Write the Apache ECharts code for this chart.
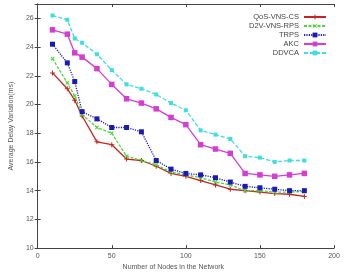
<!DOCTYPE html>
<html>
<head>
<meta charset="utf-8">
<script src="https://cdn.jsdelivr.net/npm/echarts@6/dist/echarts.min.js"></script>
<style>
	html, body { margin: 0; padding: 0; background: #fff; }
	#chart { width: 344px; height: 276px; }
</style>
</head>
<body>
<div id="chart"></div>
<script>
	// number of nodes
	var nodes = [10, 20, 25, 30, 40, 50, 60, 70, 80, 90, 100, 110, 120, 130, 140, 150, 160, 170, 180];

	var qosVnsCs = [22.2, 21.1, 20.3, 19.2, 17.4, 17.2, 16.2, 16.1, 15.7, 15.2, 15.0, 14.7, 14.4, 14.1, 14.0, 13.9, 13.8, 13.75, 13.6];
	var d2vVnsRps = [23.2, 21.5, 20.6, 19.3, 18.4, 18.0, 16.4, 16.1, 15.8, 15.3, 15.1, 14.9, 14.6, 14.4, 14.0, 14.0, 13.9, 13.9, 13.95];
	var trps = [24.2, 22.9, 21.6, 19.5, 19.0, 18.4, 18.4, 18.1, 16.1, 15.5, 15.2, 15.1, 14.9, 14.6, 14.3, 14.2, 14.1, 14.0, 14.0];
	var akc = [25.2, 24.9, 23.6, 23.3, 22.5, 21.4, 20.4, 20.1, 19.7, 19.1, 18.6, 17.2, 16.9, 16.6, 15.2, 15.1, 15.0, 15.1, 15.2];
	var ddvca = [26.2, 25.9, 24.6, 24.3, 23.5, 22.4, 21.4, 21.1, 20.7, 20.1, 19.6, 18.2, 17.9, 17.6, 16.4, 16.3, 16.0, 16.1, 16.1];

	var seriesNames = ['QoS-VNS-CS', 'D2V-VNS-RPS', 'TRPS', 'AKC', 'DDVCA'];
	var xTicks = [0, 50, 100, 150, 200];
	var yTicks = [10, 12, 14, 16, 18, 20, 22, 24, 26];

	var plusPath = 'path://M4,0H6V4H10V6H6V10H4V6H0V4H4Z';

	function pairs(vals) {
		var out = [];
		nodes.forEach(function (n, i) {
			out.push([n, vals[i]]);
		});
		return out;
	}

	function makeSeries(name, vals, color, lineType, symbol, size, rotate) {
		return {
			name: name,
			type: 'line',
			xAxisIndex: 0,
			yAxisIndex: 0,
			data: pairs(vals),
			symbol: symbol,
			symbolSize: size,
			symbolRotate: rotate || 0,
			showAllSymbol: true,
			lineStyle: { color: color, width: 1.3, type: lineType },
			itemStyle: { color: color },
			emphasis: { disabled: true },
			animation: false
		};
	}

	var axisCol = '#444';
	var labelCol = '#555';

	var chart = echarts.init(document.getElementById('chart'));
	chart.setOption({
		animation: false,
		grid: { left: 23, right: 10, top: 4, bottom: 24, containLabel: false },
		legend: {
			data: seriesNames,
			orient: 'vertical',
			right: 12,
			top: 8,
			align: 'right',
			itemWidth: 22,
			itemHeight: 6,
			itemGap: 1,
			textStyle: { color: '#444', fontSize: 7.5, fontFamily: 'Liberation Sans', padding: [0, 0, 0, 0] }
		},
		xAxis: [{
			type: 'value',
			min: xTicks[0],
			max: xTicks[xTicks.length - 1],
			interval: 50,
			name: 'Number of Nodes in the Network',
			nameLocation: 'middle',
			nameGap: 14,
			nameTextStyle: { color: labelCol, fontSize: 7, fontFamily: 'Liberation Sans', padding: [0, 25, 0, 0] },
			axisLine: { show: true, lineStyle: { color: axisCol, width: 1 } },
			axisTick: { show: true, inside: true, length: 3, lineStyle: { color: axisCol } },
			axisLabel: { color: labelCol, fontSize: 7, margin: 4, fontFamily: 'Liberation Sans' },
			splitLine: { show: false }
		}, {
			type: 'value',
			position: 'top',
			min: xTicks[0],
			max: xTicks[xTicks.length - 1],
			interval: 50,
			axisLine: { show: true, lineStyle: { color: axisCol, width: 1 } },
			axisTick: { show: true, inside: true, length: 3, lineStyle: { color: axisCol } },
			axisLabel: { show: false },
			splitLine: { show: false }
		}],
		yAxis: [{
			type: 'value',
			min: yTicks[0],
			max: 27,
			interval: 2,
			name: 'Average Delay Variation(ms)',
			nameLocation: 'middle',
			nameGap: 15,
			nameTextStyle: { color: labelCol, fontSize: 7, fontFamily: 'Liberation Sans' },
			axisLine: { show: true, lineStyle: { color: axisCol, width: 1 } },
			axisTick: { show: true, inside: true, length: 3, lineStyle: { color: axisCol } },
			axisLabel: { color: labelCol, fontSize: 7, margin: 4, showMaxLabel: false, fontFamily: 'Liberation Sans' },
			splitLine: { show: false }
		}, {
			type: 'value',
			position: 'right',
			min: yTicks[0],
			max: 27,
			interval: 2,
			axisLine: { show: true, lineStyle: { color: axisCol, width: 1 } },
			axisTick: { show: true, inside: true, length: 3, lineStyle: { color: axisCol } },
			axisLabel: { show: false },
			splitLine: { show: false }
		}],
		series: [
			makeSeries(seriesNames[0], qosVnsCs, '#c62424', 'solid', plusPath, 5),
			makeSeries(seriesNames[1], d2vVnsRps, '#4cd83c', [3, 1.5], plusPath, 5, 45),
			makeSeries(seriesNames[2], trps, '#1a1ab4', [1.2, 1.2], 'rect', 5),
			makeSeries(seriesNames[3], akc, '#d23ed2', 'solid', 'rect', 5.5),
			makeSeries(seriesNames[4], ddvca, '#3fdede', [4, 2], 'rect', 4)
		]
	});
</script>
</body>
</html>
